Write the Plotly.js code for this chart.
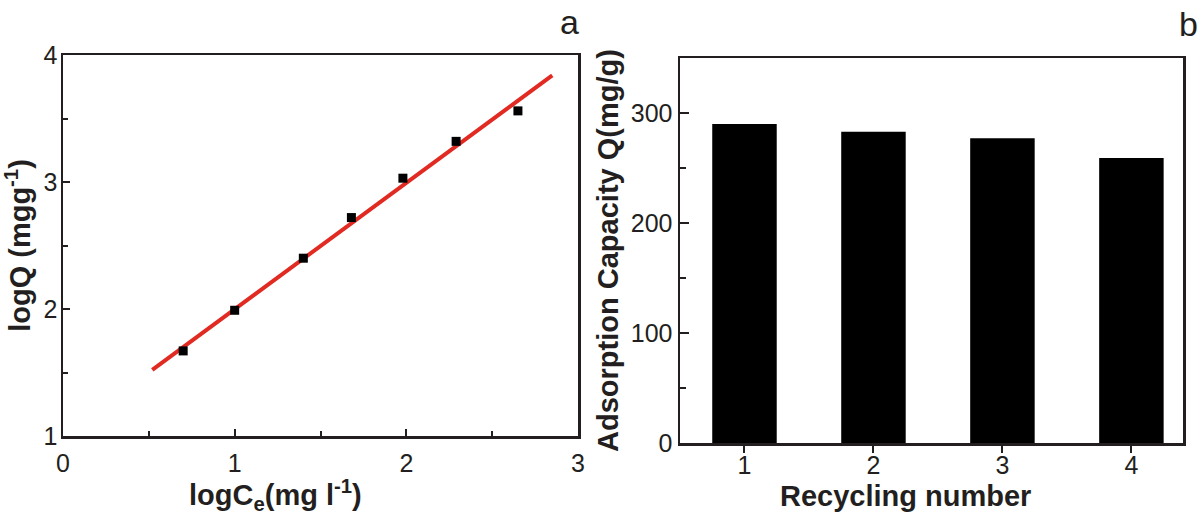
<!DOCTYPE html>
<html><head><meta charset="utf-8">
<script src="https://cdn.plot.ly/plotly-3.0.1.min.js"></script>
<style>html,body{margin:0;padding:0;background:#fff}#chart{width:1200px;height:515px}</style>
</head><body><div id="chart"></div>
<script>
// Panel a: Freundlich fit
const logCe = [0.70, 1.00, 1.40, 1.68, 1.98, 2.29, 2.65];
const logQ = [1.67, 1.99, 2.40, 2.72, 3.03, 3.32, 3.56];
const fitX = [0.52, 2.85];
const fitY = [1.52, 3.84];
// Panel b: recycling
const cycles = [1, 2, 3, 4];
const capacity = [290, 283, 277, 259];
const xTicksA = [0, 1, 2, 3];
const yTicksA = [1, 2, 3, 4];
const yTicksB = [0, 100, 200, 300];

const AX = '#231f20';
const FAM = 'Liberation Sans, Arial, sans-serif';
const tickFont = {family: FAM, size: 25, color: '#231f20'};
const titleFont = {family: FAM, size: 29, color: '#231f20', weight: 'bold'};

const data = [
  {x: fitX, y: fitY, type: 'scatter', mode: 'lines', line: {color: '#e02a22', width: 4}, xaxis: 'x', yaxis: 'y', hoverinfo: 'skip'},
  {x: logCe, y: logQ, type: 'scatter', mode: 'markers', marker: {symbol: 'square', size: 9, color: '#000'}, xaxis: 'x', yaxis: 'y'},
  {x: cycles, y: capacity, type: 'bar', width: 0.5, marker: {color: '#000', line: {width: 0}}, xaxis: 'x2', yaxis: 'y2'}
];

const baseAxis = {showline: true, linecolor: AX, linewidth: 2.5, mirror: true, showgrid: false, zeroline: false, tickfont: tickFont, tickcolor: AX, tickwidth: 2};

const layout = {
  width: 1200, height: 515,
  margin: {l: 0, r: 0, t: 0, b: 0},
  paper_bgcolor: '#fff', plot_bgcolor: '#fff',
  showlegend: false,
  xaxis: Object.assign({}, baseAxis, {domain: [63/1200, 578/1200], range: [0, 3], tickvals: xTicksA, ticktext: xTicksA.map(String), ticks: 'inside', ticklen: 7, ticklabelstandoff: 3, anchor: 'y',
    minor: {dtick: 0.5, ticks: 'inside', ticklen: 5, tickcolor: AX, tickwidth: 2}}),
  yaxis: Object.assign({}, baseAxis, {domain: [1-436/515, 1-55/515], range: [1, 4], tickvals: yTicksA, ticktext: yTicksA.map(String), ticks: 'inside', ticklen: 7, ticklabelstandoff: -2, anchor: 'x',
    minor: {dtick: 0.5, ticks: 'inside', ticklen: 5, tickcolor: AX, tickwidth: 2},
    title: {text: 'logQ (mgg<sup>-1</sup>)', font: titleFont, standoff: 8}}),
  xaxis2: Object.assign({}, baseAxis, {domain: [680/1200, 1183/1200], range: [0.5, 4.4], tickvals: cycles, ticktext: cycles.map(String), ticks: 'outside', ticklen: 7, ticklabelstandoff: -9, anchor: 'y2'}),
  yaxis2: Object.assign({}, baseAxis, {domain: [1-443/515, 1-58/515], range: [0, 350], tickvals: yTicksB, ticktext: yTicksB.map(String), ticks: 'inside', ticklen: 9, ticklabelstandoff: 0, anchor: 'x2',
    minor: {dtick: 50, ticks: 'inside', ticklen: 6, tickcolor: AX, tickwidth: 2},
    title: {text: 'Adsorption Capacity Q(mg/g)', font: titleFont, standoff: 4}}),
  annotations: [
    {text: 'a', x: 569/1200, y: 1-22/515, xref: 'paper', yref: 'paper', xanchor: 'center', yanchor: 'middle', showarrow: false, font: {family: FAM, size: 34, color: '#231f20'}},
    {text: 'b', x: 1188/1200, y: 1-24/515, xref: 'paper', yref: 'paper', xanchor: 'center', yanchor: 'middle', showarrow: false, font: {family: FAM, size: 34, color: '#231f20'}},
    {text: 'logC<sub>e</sub>(mg l<sup>-1</sup>)', x: 275/1200, y: 1-495/515, xref: 'paper', yref: 'paper', xanchor: 'center', yanchor: 'middle', showarrow: false, font: titleFont},
    {text: 'Recycling number', x: 905/1200, y: 1-496/515, xref: 'paper', yref: 'paper', xanchor: 'center', yanchor: 'middle', showarrow: false, font: titleFont}
  ]
};

Plotly.newPlot('chart', data, layout, {displayModeBar: false, staticPlot: true});
</script>
</body></html>
